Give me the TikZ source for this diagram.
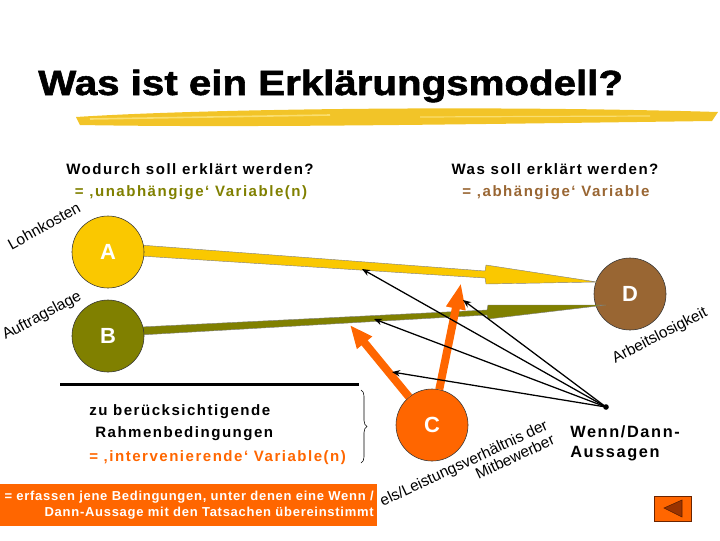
\documentclass[tikz,border=0pt]{standalone}
\usepackage{fontspec}
\setmainfont{Liberation Sans}
\newfontfamily\titlefont[FakeBold=1.5]{Liberation Sans Bold}
\newfontfamily\headfont[LetterSpace=10]{Liberation Sans Bold}
\newfontfamily\boxfont[LetterSpace=5.5]{Liberation Sans Bold}
\usetikzlibrary{arrows.meta,decorations.pathreplacing}
\definecolor{cgold}{RGB}{250,200,0}
\definecolor{colive}{RGB}{128,128,0}
\definecolor{cbrown}{RGB}{153,102,51}
\definecolor{corange}{RGB}{255,102,0}
\definecolor{cbrush}{RGB}{242,196,40}
\definecolor{cbrushlight}{RGB}{250,222,110}
\definecolor{cnav}{RGB}{153,51,0}

\begin{document}
\begin{tikzpicture}[x=0.025cm,y=-0.025cm,
  var/.style={circle,draw=black!80,line width=0.4pt,minimum size=18mm,inner sep=0pt,text=white,font=\headfont\fontsize{15.6}{18}\selectfont},
  head/.style={anchor=base,inner sep=0pt,font=\headfont\fontsize{10.7}{13}\selectfont},
  hint/.style={inner sep=0pt,font=\fontsize{11}{11.4}\selectfont},
  pull/.style={line width=0.9pt,-{Stealth[length=2mm,width=1.6mm]}},
  push/.style={corange,line width=2mm}]
\useasboundingbox (0,0) rectangle (720,540);
% title and brush
\fill[cbrush] (76,117) .. controls (200,109) and (480,105) .. (718,112) -- (712,121) .. controls (480,124) and (250,128) .. (80,125) -- cycle;
\draw[cbrushlight,line width=0.4mm] (90,119) -- (330,115);
\draw[cbrushlight,line width=0.3mm] (420,117) -- (650,116);
\node[anchor=base west,inner sep=0pt,font=\titlefont\fontsize{24.9}{30}\selectfont] (title) at (38,95) {\scalebox{1.15}[1]{Was ist ein Erklärungsmodell?}};

% headings
\node[head] (why) at (190,174) {Wodurch soll erklärt werden?};
\node[head,text=colive] (indep) at (191,196) {= ‚unabhängige‘ Variable(n)};
\node[head] (what) at (555,174) {Was soll erklärt werden?};
\node[head,text=cbrown] (dep) at (556,196) {= ‚abhängige‘ Variable};

% variables
\node[var,fill=cbrown] (D) at (630,294) {D};
\filldraw[fill=cgold,draw=black!50,line width=0.3pt] (140,245) -- (485,271) -- (486,265) -- (597,282) -- (486,284) -- (485,278) -- (140,256) -- cycle;
\filldraw[fill=colive,draw=black!50,line width=0.3pt] (140,327) -- (487,310) -- (488,305) -- (606,305) -- (488,319) -- (487,315) -- (140,335) -- cycle;
\node[var,fill=cgold] (A) at (108,252) {A};
\node[var,fill=colive] (B) at (108,336) {B};
\node[var,fill=corange] (C) at (432,425) {C};

\node[hint,rotate=29] (lohn) at (44,226) {Lohnkosten};
\node[hint,rotate=28] (auftrag) at (42,316) {Auftragslage};
\node[hint,rotate=27] (arbeit) at (660,336) {Arbeitslosigkeit};
\node[hint,rotate=25,align=right] (preis) at (467,470) {els/Leistungsverhältnis der\\Mitbewerber};

% C acts on both relations
\coordinate (up) at (461,283);
\coordinate (left) at (350,325);
\draw[push,-{Triangle[length=6.5mm,width=4.5mm]}] (C) -- (up);
\draw[push,-{Triangle[length=5.75mm,width=4.5mm]}] (C) -- (left);

% Wenn/Dann
\coordinate (wd) at (606,407);
\coordinate (onA) at (362,269);
\coordinate (onB) at (374,319);
\coordinate (onup) at (463,300);
\coordinate (onleft) at (392,372);
\draw[pull] (wd) -- (onA);
\draw[pull] (wd) -- (onup);
\draw[pull] (wd) -- (onB);
\draw[pull] (wd) -- (onleft);
\fill (wd) circle[radius=0.7mm];
\node[anchor=north west,inner sep=0pt,align=left,font=\headfont\fontsize{11.6}{14.2}\selectfont] (wenn) at (570,425) {Wenn/Dann-\\Aussagen};

% Rahmenbedingungen
\draw[line width=0.75mm] (60,384) -- (359,384);
\node[head,anchor=base west] (rb1) at (89,415) {zu berücksichtigende};
\node[head,anchor=base west] (rb2) at (95,437) {Rahmenbedingungen};
\node[head,anchor=base west,text=corange] (rb3) at (89,461) {= ‚intervenierende‘ Variable(n)};
\draw[decorate,decoration={brace,amplitude=1.5mm},line width=0.4pt] (361,390) -- (361,463);
\node[fill=corange,text=white,anchor=north east,text width=92.75mm,align=right,inner xsep=0.75mm,inner ysep=0pt,minimum height=10.5mm,font=\boxfont\fontsize{9.25}{11.4}\selectfont] (note) at (377,484) {= erfassen jene Bedingungen, unter denen eine Wenn /\\Dann-Aussage mit den Tatsachen übereinstimmt};

% back button
\node[draw=cnav!70!black,fill=corange,minimum width=9.25mm,minimum height=6.25mm,inner sep=0pt] (back) at (672.5,508.5) {};
\filldraw[fill=cnav,draw=cnav!60!black] (664,508) -- (682,500) -- (682,517) -- cycle;
\end{tikzpicture}
\end{document}
